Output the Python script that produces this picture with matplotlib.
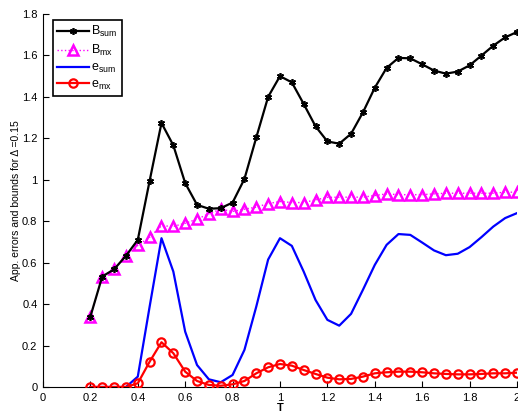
import numpy as np
import matplotlib
matplotlib.use("Agg")
import matplotlib.pyplot as plt

plt.rcParams['font.family'] = ['Liberation Sans', 'DejaVu Sans']
plt.rcParams['mathtext.fontset'] = 'custom'
plt.rcParams['mathtext.rm'] = 'Liberation Sans'

# T = 0.2 ... 2.0, step 0.05
T = [0.2, 0.25, 0.3, 0.35, 0.4, 0.45, 0.5, 0.55, 0.6, 0.65, 0.7, 0.75, 0.8,
     0.85, 0.9, 0.95, 1.0, 1.05, 1.1, 1.15, 1.2, 1.25, 1.3, 1.35, 1.4, 1.45,
     1.5, 1.55, 1.6, 1.65, 1.7, 1.75, 1.8, 1.85, 1.9, 1.95, 2.0]

B_sum = [0.34, 0.533, 0.568, 0.633, 0.71, 0.995, 1.274, 1.166, 0.984, 0.879,
         0.86, 0.863, 0.89, 1.004, 1.204, 1.40, 1.50, 1.47, 1.366, 1.258,
         1.185, 1.174, 1.222, 1.325, 1.444, 1.54, 1.588, 1.586, 1.557, 1.527,
         1.512, 1.522, 1.552, 1.599, 1.647, 1.687, 1.713]

B_mx = [0.34, 0.533, 0.568, 0.633, 0.683, 0.723, 0.778, 0.775, 0.79, 0.81,
        0.836, 0.858, 0.847, 0.858, 0.868, 0.885, 0.895, 0.89, 0.89, 0.903,
        0.915, 0.916, 0.916, 0.916, 0.924, 0.932, 0.928, 0.928, 0.928, 0.932,
        0.935, 0.935, 0.935, 0.935, 0.935, 0.94, 0.94]

e_sum = [0.0, 0.0, 0.0, 0.0, 0.05, 0.388, 0.718, 0.557, 0.267, 0.106, 0.037,
         0.023, 0.058, 0.179, 0.388, 0.615, 0.718, 0.681, 0.557, 0.42, 0.324,
         0.296, 0.353, 0.469, 0.589, 0.686, 0.738, 0.734, 0.697, 0.659, 0.636,
         0.643, 0.675, 0.723, 0.774, 0.815, 0.839]

e_mx = [0.0, 0.0, 0.0, 0.0, 0.018, 0.122, 0.216, 0.163, 0.074, 0.029, 0.01,
        0.006, 0.013, 0.029, 0.066, 0.095, 0.111, 0.103, 0.082, 0.063, 0.045,
        0.037, 0.039, 0.05, 0.066, 0.071, 0.074, 0.074, 0.071, 0.066, 0.063,
        0.061, 0.061, 0.063, 0.066, 0.066, 0.069]

fig = plt.figure(figsize=(5.18, 4.11), dpi=100)
ax = fig.add_axes([0.083, 0.0584, 0.915, 0.9076])

ax.plot(T, B_sum, color='black', lw=1.6, marker=(6, 2, 0), ms=5, mew=1.2,
        label=r'B$_{\mathrm{sum}}$', zorder=4)
ax.plot(T, B_mx, color='magenta', ls=':', lw=1.0, marker='^', ms=7,
        mfc='none', mew=1.8, label=r'B$_{\mathrm{mx}}$', zorder=3)
ax.plot(T, e_sum, color='blue', lw=1.6, label=r'e$_{\mathrm{sum}}$', zorder=3)
ax.plot(T, e_mx, color='red', lw=1.6, marker='o', ms=6, mfc='none', mew=1.6,
        label=r'e$_{\mathrm{mx}}$', zorder=3)

ax.set_xlim(0, 2)
ax.set_ylim(0, 1.8)
ax.set_xticks(np.arange(0, 2.01, 0.2))
ax.set_xticklabels(['0', '0.2', '0.4', '0.6', '0.8', '1', '1.2', '1.4', '1.6', '1.8', '2'])
ax.set_yticks(np.arange(0, 1.81, 0.2))
ax.set_yticklabels(['0', '0.2', '0.4', '0.6', '0.8', '1', '1.2', '1.4', '1.6', '1.8'])
ax.tick_params(direction='in', labelsize=8, length=4, width=0.8, pad=4)
ax.spines['top'].set_visible(False)
ax.spines['right'].set_visible(False)

ax.set_xlabel('T', fontsize=8, fontweight='bold', labelpad=0)
ax.set_ylabel('App. errors and bounds for Δ =0.15', fontsize=7.5, labelpad=1)

leg = ax.legend(loc='upper left', bbox_to_anchor=(0.021, 0.984), fontsize=9,
                borderaxespad=0, handlelength=2.5, handletextpad=0.2,
                labelspacing=0.3, borderpad=0.35, fancybox=False, framealpha=1)
leg.get_frame().set_edgecolor('black')
leg.get_frame().set_linewidth(1.2)

fig.savefig('out.png', dpi=100)
